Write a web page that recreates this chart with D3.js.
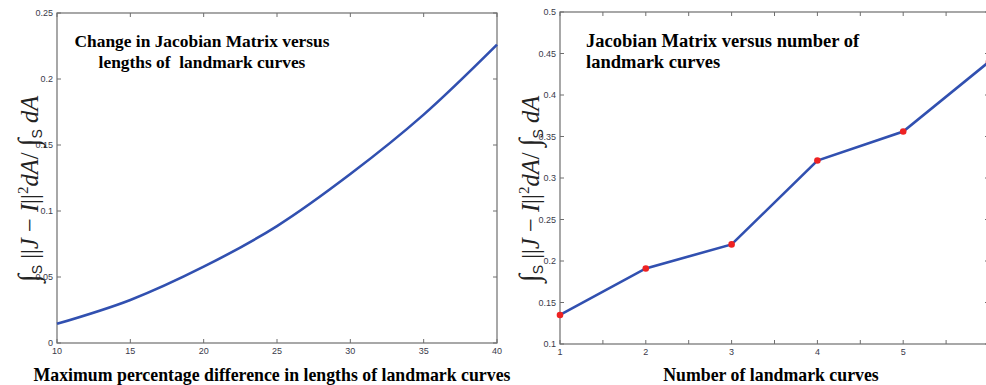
<!DOCTYPE html>
<html lang="en">
<head>
<meta charset="UTF-8">
<title>Jacobian Matrix charts</title>
<script src="https://d3js.org/d3.v7.min.js"></script>
<style>
body{margin:0;background:#fff}
svg{display:block}
.tick-lbl{font-family:"Liberation Sans",Arial,sans-serif;font-size:9px;fill:#3a3a4a}
.title{font-family:"Liberation Serif","Times New Roman",serif;font-weight:bold;fill:#000;white-space:pre}
.xlab{font-family:"Liberation Serif","Times New Roman",serif;font-weight:bold;font-size:17.8px;fill:#000}
.ylab{font-family:"Liberation Serif","Times New Roman",serif;font-size:24.5px;fill:#222}
</style>
</head>
<body>
<svg id="chart" width="986" height="385"></svg>
<script>
// left panel: change vs max percentage difference in lengths
var pctDiff = [10, 15, 20, 25, 30, 35, 40];
var changeVals = [0.0145, 0.0326, 0.0578, 0.0886, 0.128, 0.173, 0.226];
var leftXTicks = [10, 15, 20, 25, 30, 35, 40];
var leftYTicks = [0, 0.05, 0.1, 0.15, 0.2, 0.25];

// right panel: value vs number of landmark curves
var numCurves = [1, 2, 3, 4, 5, 6];
var curveVals = [0.135, 0.191, 0.22, 0.321, 0.356, 0.44];
var rightXTicks = [1, 1.5, 2, 2.5, 3, 3.5, 4, 4.5, 5, 5.5, 6];
var rightYTicks = [0.1, 0.15, 0.2, 0.25, 0.3, 0.35, 0.4, 0.45, 0.5];

var svg = d3.select('#chart');
var AXIS = '#6e6e6e';
var LINE = '#3150b0';

function yLabel(g, x, y) {
  var t = g.append('text').attr('class', 'ylab')
    .attr('transform', 'translate(' + x + ',' + y + ') rotate(-90)')
    .attr('text-anchor', 'middle');
  t.append('tspan').attr('font-size', 29).text('\u222B');
  t.append('tspan').attr('font-size', 14).attr('font-family', '"Liberation Sans",Arial,sans-serif').attr('dy', 4).text('S');
  t.append('tspan').attr('dy', -4).text(' ||');
  t.append('tspan').attr('font-style', 'italic').text('J');
  t.append('tspan').text(' \u2212 ');
  t.append('tspan').attr('font-style', 'italic').text('I');
  t.append('tspan').text('||');
  t.append('tspan').attr('font-size', 15).attr('dy', -10).text('2');
  t.append('tspan').attr('font-style', 'italic').attr('dy', 10).text('dA');
  t.append('tspan').text('/ ');
  t.append('tspan').attr('font-size', 29).text('\u222B');
  t.append('tspan').attr('font-size', 14).attr('font-family', '"Liberation Sans",Arial,sans-serif').attr('dy', 4).text('S');
  t.append('tspan').attr('font-style', 'italic').attr('dy', -4).text(' dA');
}

function panel(opt) {
  var x = d3.scaleLinear().domain(opt.xDomain).range([opt.left, opt.right]);
  var y = d3.scaleLinear().domain(opt.yDomain).range([opt.bottom, opt.top]);
  var g = svg.append('g');

  // box
  g.append('rect').attr('x', opt.left).attr('y', opt.top)
    .attr('width', opt.right - opt.left).attr('height', opt.bottom - opt.top)
    .attr('fill', 'none').attr('stroke', AXIS).attr('stroke-width', 1.2);

  // ticks (inward, on all four sides)
  var tl = 4;
  var xt = g.append('g');
  opt.xTicks.forEach(function(v) {
    xt.append('line').attr('x1', x(v)).attr('x2', x(v)).attr('y1', opt.bottom).attr('y2', opt.bottom - tl).attr('stroke', AXIS);
    xt.append('line').attr('x1', x(v)).attr('x2', x(v)).attr('y1', opt.top).attr('y2', opt.top + tl).attr('stroke', AXIS);
    if (opt.xLabelOk(v)) {
      xt.append('text').attr('class', 'tick-lbl').attr('x', x(v)).attr('y', opt.bottom + 11)
        .attr('text-anchor', 'middle').text(v);
    }
  });
  var yt = g.append('g');
  opt.yTicks.forEach(function(v) {
    yt.append('line').attr('x1', opt.left).attr('x2', opt.left + tl).attr('y1', y(v)).attr('y2', y(v)).attr('stroke', AXIS);
    yt.append('line').attr('x1', opt.right).attr('x2', opt.right - tl).attr('y1', y(v)).attr('y2', y(v)).attr('stroke', AXIS);
    yt.append('text').attr('class', 'tick-lbl').attr('x', opt.left - 4).attr('y', y(v) + 3)
      .attr('text-anchor', 'end').text(v);
  });

  var line = d3.line().x(function(d) { return x(d[0]); }).y(function(d) { return y(d[1]); })
    .curve(opt.curve);
  var pts = d3.zip(opt.xs, opt.ys);
  g.append('path').attr('d', line(pts)).attr('fill', 'none')
    .attr('stroke', LINE).attr('stroke-width', 2.6);

  if (opt.dots) {
    g.selectAll('.dot').data(pts).join('circle').attr('class', 'dot')
      .attr('cx', function(d) { return x(d[0]); }).attr('cy', function(d) { return y(d[1]); })
      .attr('r', 3.3).attr('fill', '#ee2222');
  }

  // titles
  var tt = g.append('text').attr('class', 'title').attr('text-anchor', opt.titleAnchor)
    .attr('font-size', opt.titleSize);
  opt.title.forEach(function(s, i) {
    tt.append('tspan').attr('x', opt.titleX).attr('y', 47 + i * 21).text(s);
  });

  g.append('text').attr('class', 'xlab').attr('x', opt.xlabX).attr('y', 381)
    .attr('text-anchor', 'middle').text(opt.xlab);

  yLabel(g, opt.ylabX, 189);
}

panel({
  left: 57, right: 497, top: 13, bottom: 343,
  xDomain: [10, 40], yDomain: [0, 0.25],
  xTicks: leftXTicks, yTicks: leftYTicks,
  xLabelOk: function() { return true; },
  xs: pctDiff, ys: changeVals, curve: d3.curveCatmullRom, dots: false,
  title: ['Change in Jacobian Matrix versus', 'lengths of  landmark curves'],
  titleAnchor: 'middle', titleX: 202, titleSize: 17.4,
  xlab: 'Maximum percentage difference in lengths of landmark curves', xlabX: 272,
  ylabX: 38
});

panel({
  left: 560, right: 989, top: 12, bottom: 344,
  xDomain: [1, 6], yDomain: [0.1, 0.5],
  xTicks: rightXTicks, yTicks: rightYTicks,
  xLabelOk: function(v) { return v % 1 === 0 && v < 6; },
  xs: numCurves, ys: curveVals, curve: d3.curveLinear, dots: true,
  title: ['Jacobian Matrix versus number of', 'landmark curves'],
  titleAnchor: 'start', titleX: 586, titleSize: 18.5,
  xlab: 'Number of landmark curves', xlabX: 771,
  ylabX: 539
});
</script>
</body>
</html>
